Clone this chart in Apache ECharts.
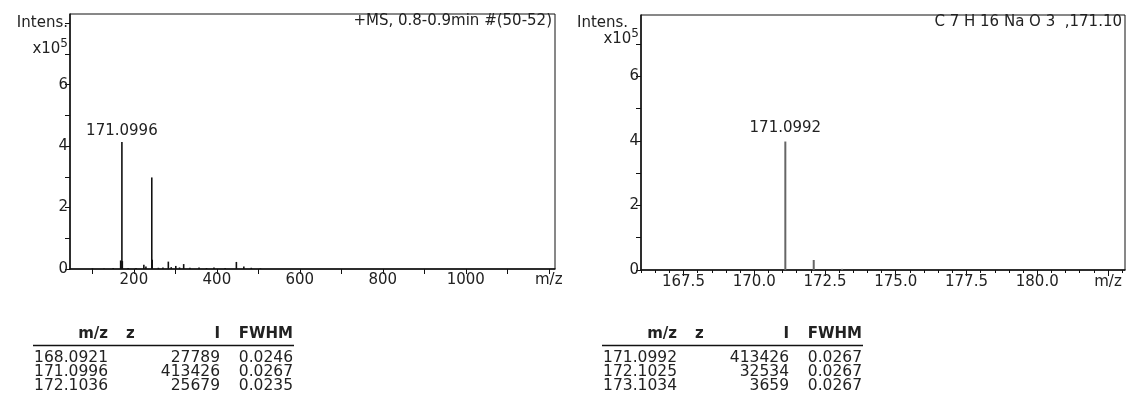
<!DOCTYPE html>
<html>
<head>
<meta charset="utf-8">
<script src="https://cdn.jsdelivr.net/npm/echarts@6/dist/echarts.min.js"></script>
<style>
  html, body { margin: 0; padding: 0; background: #fff; }
  #chart { width: 1127px; height: 412px; }
</style>
</head>
<body>
<div id="chart"></div>
<script>
// full scan spectrum, m/z and intensity (x10^5)
var scanMz  = [100, 128, 150, 168.0921, 171.0996, 172.1036, 186, 205, 224, 229, 243.1, 244.1, 259, 270, 283, 290, 301, 310, 320, 335, 357, 375, 393, 420, 447, 465, 483, 505];
var scanInt = [0.02, 0.02, 0.03, 0.278, 4.134, 0.257, 0.03, 0.03, 0.14, 0.08, 2.98, 0.30, 0.04, 0.05, 0.24, 0.06, 0.10, 0.05, 0.16, 0.04, 0.05, 0.03, 0.05, 0.03, 0.23, 0.08, 0.04, 0.02];
var scanLabelMz = 171.0996;

// simulated pattern C7H16NaO3
var zoomMz  = [171.0992, 172.1025, 173.1034];
var zoomInt = [3.98, 0.31, 0.035];
var zoomLabelMz = 171.0992;

// axis ticks
var scanTicks  = [100, 200, 300, 400, 500, 600, 700, 800, 900, 1000, 1100, 1200];
var scanLabels = [200, 400, 600, 800, 1000, 1200];
var zoomMajor  = [167.5, 170, 172.5, 175, 177.5, 180, 182.5];
var zoomMinor  = [166, 166.5, 167, 168, 168.5, 169, 169.5, 170.5, 171, 171.5, 172, 173, 173.5, 174, 174.5, 175.5, 176, 176.5, 177, 178, 178.5, 179, 179.5, 180.5, 181, 181.5, 182, 183];
var yTicksScan = [0, 1, 2, 3, 4, 5, 6, 7, 8];
var yTicksZoom = [0, 1, 2, 3, 4, 5, 6, 7];

// peak tables
var tableHead = ['m/z', 'z', 'I', 'FWHM'];
var scanTable = [
  ['168.0921', '', '27789', '0.0246'],
  ['171.0996', '', '413426', '0.0267'],
  ['172.1036', '', '25679', '0.0235']
];
var zoomTable = [
  ['171.0992', '', '413426', '0.0267'],
  ['172.1025', '', '32534', '0.0267'],
  ['173.1034', '', '3659', '0.0267']
];

var FONT = 'DejaVu Sans';
var TXT = '#222';
var FS = 15;

function peaks(mz, inten, labelMz, gap) {
  return mz.map(function (m, i) {
    var item = { value: [m, inten[i]] };
    if (m === labelMz) {
      item.label = {
        show: true, position: 'top', distance: gap,
        formatter: function (p) { return p.value[0].toFixed(4); },
        color: TXT, fontFamily: FONT, fontSize: FS
      };
    }
    return item;
  });
}

function yAxisFor(grid, max, ticks, labels) {
  return {
    gridIndex: grid, type: 'value', min: 0, max: max,
    axisLine: { show: true, lineStyle: { color: '#111', width: 1.5 } },
    axisTick: { show: true, inside: false, length: 5, customValues: ticks, lineStyle: { color: '#111' } },
    splitLine: { show: false },
    axisLabel: {
      customValues: labels, hideOverlap: false, margin: 2, color: TXT, fontFamily: FONT, fontSize: FS,
      formatter: function (v) {
        if (v === 8) return 'Intens.';
        if (v === 7) return '{x|x10}{s|5}';
        return String(v);
      },
      rich: {
        x: { fontFamily: FONT, fontSize: FS, color: TXT, padding: [0, 0, 10, 0] },
        s: { fontFamily: FONT, fontSize: 12, color: TXT, padding: [0, 0, 20, 0] }
      }
    }
  };
}

var chart = echarts.init(document.getElementById('chart'));

var plainText = { color: TXT, fontFamily: FONT, fontSize: FS, fontWeight: 'normal' };

var option = {
  animation: false,
  backgroundColor: '#fff',
  textStyle: { fontFamily: FONT },
  title: [
    { text: '+MS, 0.8-0.9min #(50-52)', right: 575, top: 14, padding: 0, textStyle: plainText },
    { text: 'C 7 H 16 Na O 3  ,171.10', right: 5, top: 15, padding: 0, textStyle: plainText },
    // right panel has no tick at 8, so its axis title sits by itself
    { text: 'Intens.', left: 577, top: 16, padding: 0, textStyle: plainText }
  ],
  grid: [
    { left: 70, top: 14, width: 485, height: 255, show: true, borderColor: '#111', borderWidth: 1 },
    { left: 641, top: 15, width: 484, height: 255, show: true, borderColor: '#111', borderWidth: 1 }
  ],
  xAxis: [
    {
      gridIndex: 0, type: 'value', position: 'bottom', min: 46, max: 1215,
      axisLine: { show: true, lineStyle: { color: '#111', width: 1.5 } },
      axisTick: { show: true, inside: false, length: 5, customValues: scanTicks, lineStyle: { color: '#111' } },
      splitLine: { show: false },
      axisLabel: {
        customValues: scanLabels, margin: 4, color: TXT, fontFamily: FONT, fontSize: FS,
        formatter: function (v) { return v === 1200 ? 'm/z' : String(v); }
      }
    },
    {
      gridIndex: 1, type: 'value', position: 'bottom', min: 166, max: 183.1,
      axisLine: { show: true, lineStyle: { color: '#111', width: 1.5 } },
      axisTick: { show: true, inside: false, length: 6, customValues: zoomMajor, lineStyle: { color: '#111' } },
      splitLine: { show: false },
      axisLabel: {
        customValues: zoomMajor, margin: 5, color: TXT, fontFamily: FONT, fontSize: FS,
        formatter: function (v) { return v === 182.5 ? 'm/z' : v.toFixed(1); }
      }
    },
    {
      // minor ticks every 0.5 on the zoomed panel
      gridIndex: 1, type: 'value', position: 'bottom', min: 166, max: 183.1,
      axisLine: { show: false },
      axisTick: { show: true, inside: false, length: 3, customValues: zoomMinor, lineStyle: { color: '#111' } },
      axisLabel: { show: false },
      splitLine: { show: false }
    }
  ],
  yAxis: [
    yAxisFor(0, 8.3, yTicksScan, [0, 2, 4, 6, 7, 8]),
    yAxisFor(1, 7.9, yTicksZoom, [0, 2, 4, 6, 7])
  ],
  series: [
    {
      type: 'bar', xAxisIndex: 0, yAxisIndex: 0, barWidth: 1.6,
      itemStyle: { color: '#111' },
      data: peaks(scanMz, scanInt, scanLabelMz, 3)
    },
    {
      type: 'bar', xAxisIndex: 1, yAxisIndex: 1, barWidth: 2,
      itemStyle: { color: '#666' },
      data: peaks(zoomMz, zoomInt, zoomLabelMz, 6)
    }
  ],
  graphic: []
};

// peak tables under each spectrum
function table(dx, rows) {
  var els = [];
  var cols = [
    { x: 108, align: 'right' },
    { x: 126, align: 'left' },
    { x: 220, align: 'right' },
    { x: 293, align: 'right' }
  ];
  tableHead.forEach(function (h, c) {
    els.push({
      type: 'text', x: dx + cols[c].x, y: 334,
      style: { text: h, fill: TXT, font: 'bold ' + FS + 'px "' + FONT + '"', align: cols[c].align, verticalAlign: 'middle' }
    });
  });
  els.push({
    type: 'line', shape: { x1: dx + 33, y1: 345.5, x2: dx + 294, y2: 345.5 },
    style: { stroke: '#111', lineWidth: 1.5 }
  });
  rows.forEach(function (r, i) {
    r.forEach(function (cell, c) {
      if (!cell) return;
      els.push({
        type: 'text', x: dx + cols[c].x, y: 358 + i * 13.8,
        style: { text: cell, fill: TXT, font: '15.5px "' + FONT + '"', align: cols[c].align, verticalAlign: 'middle' }
      });
    });
  });
  return els;
}

option.graphic = table(0, scanTable).concat(table(569, zoomTable));

chart.setOption(option);
</script>
</body>
</html>
